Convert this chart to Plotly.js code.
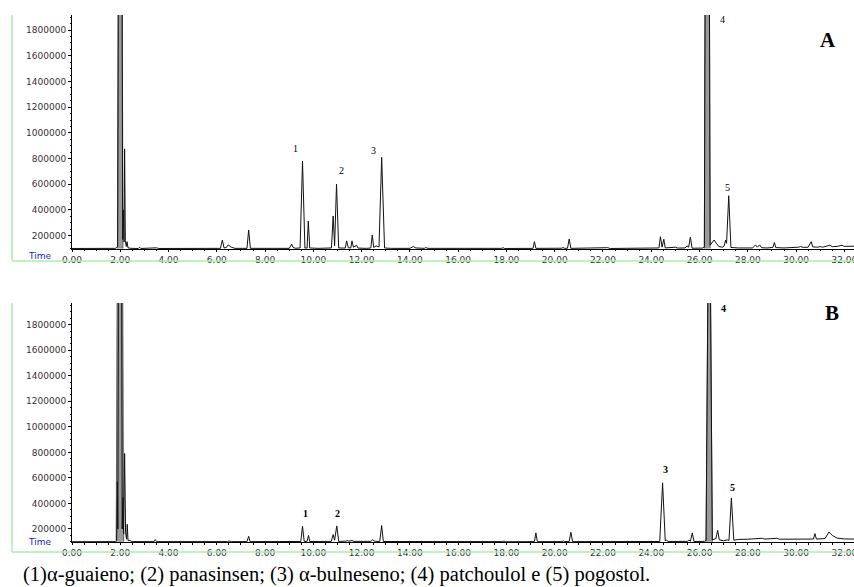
<!DOCTYPE html>
<html>
<head>
<meta charset="utf-8">
<script src="https://cdn.plot.ly/plotly-3.0.1.min.js"></script>
<style>
  html, body { margin: 0; padding: 0; background: #fff; }
  #chart { width: 854px; height: 587px; }
</style>
</head>
<body>
<div id="chart"></div>
<script>
// ---------- Chromatogram A (retention time in min, abundance) ----------
const timeA = [0.00,0.50,1.00,1.50,1.80,1.86,1.89,2.00,2.10,2.13,2.155,2.18,2.21,2.25,2.28,2.32,2.45,2.75,2.80,2.85,
  3.30,3.40,3.50,3.60,4.50,5.30,5.40,6.15,6.23,6.30,6.40,6.47,6.60,6.75,7.25,7.32,7.39,8.00,9.00,9.06,9.10,9.16,9.25,
  9.45,9.55,9.65,9.74,9.79,9.85,10.20,10.75,10.82,10.88,10.96,11.05,11.32,11.38,11.45,11.55,11.60,11.66,11.79,11.85,
  12.20,12.38,12.44,12.50,12.60,12.72,12.83,12.95,13.20,14.00,14.14,14.25,14.60,14.65,14.75,16.00,17.80,17.86,17.92,
  19.10,19.16,19.22,20.30,20.34,20.40,20.53,20.60,20.67,22.10,22.20,22.30,23.50,24.00,24.10,24.32,24.38,24.45,24.52,
  24.58,25.00,25.10,25.40,25.48,25.55,25.62,25.69,25.90,26.12,26.20,26.32,26.44,26.60,26.70,26.80,26.95,27.02,27.08,
  27.12,27.21,27.30,27.60,27.90,28.20,28.32,28.40,28.49,28.57,28.80,29.04,29.10,29.16,29.50,29.80,30.10,30.19,30.30,
  30.50,30.63,30.69,30.90,31.00,31.10,31.40,31.50,31.70,31.90,32.00,32.40];
const abundA = [100000,101000,100000,101000,101000,108000,118000,8000000,170000,400000,150000,875000,160000,115000,153000,105000,101000,100000,110000,100000,
  101000,106000,105000,100000,100000,103000,100000,101000,166000,104000,108000,128000,110000,101000,101000,244000,101000,100000,101000,120000,135000,108000,102000,
  104000,781000,103000,104000,314000,104000,101000,104000,353000,120000,602000,104000,103000,159000,105000,104000,159000,110000,125000,103000,
  101000,104000,205000,108000,120000,112000,810000,104000,101000,101000,115000,104000,101000,107000,101000,100000,101000,106000,100000,
  101000,153000,101000,102000,108000,101000,102000,174000,101000,101000,106000,100000,102000,104000,101000,104000,192000,110000,172000,
  104000,110000,103000,104000,120000,110000,188000,102000,101000,103000,110000,8000000,125000,166000,140000,115000,110000,120000,166000,
  140000,511000,108000,104000,106000,104000,128000,110000,128000,106000,104000,108000,146000,107000,104000,106000,110000,115000,108000,
  110000,153000,112000,110000,115000,110000,125000,114000,116000,125000,116000,118000];

// saturated (off-scale) peaks of A, drawn as grey bands
const satA1Time = [1.89, 2.00, 2.11];
const satA1Abund = [100000, 8000000, 100000];
const satA2Time = [26.20, 26.32, 26.44];
const satA2Abund = [100000, 8000000, 100000];

// ---------- Chromatogram B ----------
const timeB = [0.00,1.00,1.75,1.80,1.85,1.88,1.90,1.99,2.08,2.11,2.14,2.18,2.22,2.26,2.29,2.32,2.40,2.48,3.40,3.45,3.50,
  5.00,6.45,6.50,6.60,7.25,7.32,7.38,9.05,9.10,9.20,9.48,9.55,9.62,9.74,9.80,9.85,10.74,10.82,10.88,10.97,11.05,11.35,
  11.40,11.48,11.60,11.68,12.38,12.45,12.55,12.75,12.83,12.90,14.00,16.00,17.85,17.90,17.95,19.16,19.22,19.28,20.30,
  20.35,20.40,20.60,20.67,20.74,22.20,22.30,22.45,22.50,24.35,24.47,24.58,24.62,24.70,25.50,25.56,25.62,25.70,25.77,
  26.20,26.27,26.40,26.53,26.58,26.68,26.75,26.82,27.00,27.15,27.22,27.32,27.42,27.60,28.00,28.40,28.60,28.70,29.15,
  29.20,29.30,30.00,30.47,30.55,30.72,30.78,30.84,31.20,31.36,31.50,31.70,32.00,32.40];
const abundB = [100000,100000,101000,101000,110000,570000,200000,8000000,200000,446000,160000,791000,170000,120000,237000,110000,110000,101000,101000,117000,101000,
  100000,101000,106000,101000,101000,143000,101000,101000,106000,101000,102000,221000,103000,103000,150000,102000,103000,156000,112000,224000,103000,104000,
  110000,104000,110000,103000,103000,115000,104000,102000,227000,102000,101000,101000,101000,106000,100000,101000,169000,101000,101000,
  107000,101000,102000,174000,101000,101000,105000,104000,101000,102000,561000,106000,114000,102000,103000,114000,104000,169000,102000,
  103000,110000,3470000,115000,120000,125000,190000,115000,108000,115000,110000,443000,112000,118000,120000,122000,127000,121000,122000,
  127000,120000,121000,124000,119000,121000,164000,121000,125000,176000,150000,128000,122000,121000];

const satB1Time = [1.83, 1.99, 2.14];
const satB1Abund = [100000, 8000000, 100000];
const satB2Time = [26.27, 26.40, 26.53];
const satB2Abund = [100000, 3470000, 100000];

// ---------- peak labels ----------
const labelsA = ["1", "2", "3", "4", "5"];
const labelTimeA = [9.27, 11.18, 12.51, 26.95, 27.16];
const labelAbundA = [875000, 704000, 859000, 1886000, 571000];
const labelsB = ["1", "2", "3", "4", "5"];
const labelTimeB = [9.69, 11.02, 24.58, 26.99, 27.36];
const labelAbundB = [323000, 323000, 668000, 1929000, 527000];

const caption = "(1)α-guaieno; (2) panasinsen; (3) α-bulneseno; (4) patchoulol e (5) pogostol.";

// ---------- build ----------
const lineStyle = {color: '#111111', width: 1};
function satTrace(t, v, xa, ya) {
  return {x: t, y: v, xaxis: xa, yaxis: ya, type: 'scatter', mode: 'lines',
    fill: 'toself', fillcolor: '#9a9a9a', line: {color: '#666666', width: 1},
    hoverinfo: 'skip', showlegend: false};
}
const traces = [
  satTrace(satA1Time, satA1Abund, 'x', 'y'),
  satTrace(satA2Time, satA2Abund, 'x', 'y'),
  satTrace(satB1Time, satB1Abund, 'x2', 'y2'),
  satTrace(satB2Time, satB2Abund, 'x2', 'y2'),
  {x: timeA, y: abundA, xaxis: 'x', yaxis: 'y', type: 'scatter', mode: 'lines', line: lineStyle, showlegend: false},
  {x: timeB, y: abundB, xaxis: 'x2', yaxis: 'y2', type: 'scatter', mode: 'lines', line: lineStyle, showlegend: false}
];

const tickFont = {family: 'DejaVu Sans', size: 9, color: '#333333'};
function xAxis(anchor) {
  return {anchor: anchor, range: [0, 32.4], dtick: 2, tick0: 0, tickformat: '.2f',
    ticklabeloverflow: 'allow',
    showline: true, linecolor: '#000', linewidth: 1, ticks: 'outside', ticklen: 2, tickcolor: '#000',
    minor: {dtick: 0.5, ticks: 'outside', ticklen: 1.5, tickcolor: '#000'},
    showgrid: false, zeroline: false, tickfont: tickFont, fixedrange: true};
}
function yAxis(anchor, domain, range) {
  return {anchor: anchor, domain: domain, range: range, dtick: 200000, tick0: 0, tickformat: 'd',
    showline: true, linecolor: '#000', linewidth: 1, ticks: 'outside', ticklen: 3, tickcolor: '#000',
    minor: {dtick: 50000, ticks: 'outside', ticklen: 1.5, tickcolor: '#000'},
    showgrid: false, zeroline: false, tickfont: tickFont, fixedrange: true};
}

const annotations = [];
labelsA.forEach((s, i) => annotations.push({xref: 'x', yref: 'y', x: labelTimeA[i], y: labelAbundA[i], text: s,
  showarrow: false, font: {family: 'Liberation Serif', size: 10, color: '#000'}}));
labelsB.forEach((s, i) => annotations.push({xref: 'x2', yref: 'y2', x: labelTimeB[i], y: labelAbundB[i], text: '<b>' + s + '</b>',
  showarrow: false, font: {family: 'Liberation Serif', size: 10, color: '#000'}}));
annotations.push({xref: 'paper', yref: 'paper', x: 0.9795, y: 0.979, text: '<b>A</b>', showarrow: false,
  font: {family: 'Liberation Serif', size: 21, color: '#000'}});
annotations.push({xref: 'paper', yref: 'paper', x: 0.983, y: 0.4345, text: '<b>B</b>', showarrow: false,
  font: {family: 'Liberation Serif', size: 21, color: '#000'}});
annotations.push({xref: 'paper', yref: 'paper', x: -0.0588, y: 0.5427, text: 'Time', showarrow: false,
  font: {family: 'DejaVu Sans', size: 9, color: '#1a1adc'}});
annotations.push({xref: 'paper', yref: 'paper', x: -0.0588, y: -0.0133, text: 'Time', showarrow: false,
  font: {family: 'DejaVu Sans', size: 9, color: '#1a1adc'}});
annotations.push({xref: 'paper', yref: 'paper', x: -0.0655, xanchor: 'left', y: -0.0626, yanchor: 'middle',
  text: caption, showarrow: false, font: {family: 'Liberation Serif', size: 20.5, color: '#000'}});

const green = {color: '#a9eea9', width: 1.5};
const shapes = [
  {type: 'line', xref: 'paper', yref: 'paper', x0: -0.0767, x1: -0.0767, y0: 0.533, y1: 1.0, line: green},
  {type: 'line', xref: 'paper', yref: 'paper', x0: -0.0767, x1: 1.0, y0: 0.533, y1: 0.533, line: green},
  {type: 'line', xref: 'paper', yref: 'paper', x0: -0.0767, x1: -0.0767, y0: -0.019, y1: 0.4535, line: green},
  {type: 'line', xref: 'paper', yref: 'paper', x0: -0.0767, x1: 1.0, y0: -0.019, y1: -0.019, line: green}
];

const layout = {
  width: 854, height: 587,
  margin: {l: 72, r: 0, t: 15, b: 45},
  paper_bgcolor: '#fff', plot_bgcolor: '#fff',
  showlegend: false,
  xaxis: xAxis('y'),
  yaxis: yAxis('x', [0.556, 1], [96000, 1917600]),
  xaxis2: xAxis('y2'),
  yaxis2: yAxis('x2', [0, 0.4535], [98000, 1970000]),
  annotations: annotations,
  shapes: shapes
};

Plotly.newPlot('chart', traces, layout, {displayModeBar: false, staticPlot: true});
</script>
</body>
</html>
